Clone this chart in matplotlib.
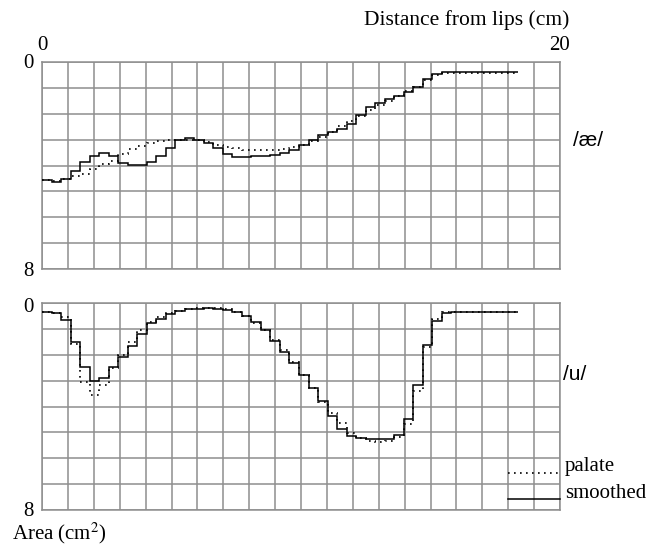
import numpy as np
import matplotlib
matplotlib.use("Agg")
import matplotlib.pyplot as plt

plt.rcParams['font.family'] = ['Liberation Serif', 'DejaVu Serif']
plt.rcParams['mathtext.fontset'] = 'stix'

# Vocal-tract sections (cm each) and cross-sectional areas (cm^2)
section_length = 0.3675
top_palate = [4.56, 4.58, 4.52, 4.42, 4.31, 4.15, 3.95, 3.82, 3.56, 3.37,
              3.24, 3.12, 3.06, 3.02, 3.01, 3.01, 3.03, 3.10, 3.19, 3.27,
              3.34, 3.40, 3.42, 3.42, 3.40, 3.37, 3.30, 3.20, 3.05, 2.88,
              2.70, 2.48, 2.28, 2.08, 1.86, 1.66, 1.49, 1.32, 1.14, 0.95,
              0.70, 0.50, 0.42, 0.41, 0.41, 0.41, 0.41, 0.41, 0.41, 0.41]
top_smoothed = [4.56, 4.62, 4.52, 4.20, 3.85, 3.65, 3.53, 3.63, 3.90, 3.98,
                3.98, 3.87, 3.62, 3.31, 3.01, 2.95, 3.01, 3.14, 3.31, 3.56,
                3.68, 3.66, 3.64, 3.62, 3.58, 3.52, 3.40, 3.20, 3.01, 2.82,
                2.69, 2.60, 2.39, 2.05, 1.75, 1.57, 1.44, 1.31, 1.15, 0.98,
                0.67, 0.46, 0.40, 0.40, 0.40, 0.40, 0.40, 0.40, 0.40, 0.40]
bottom_palate = [0.36, 0.38, 0.55, 1.60, 3.06, 3.55, 3.15, 2.52, 2.00, 1.50,
                 1.04, 0.72, 0.53, 0.40, 0.30, 0.24, 0.21, 0.20, 0.21, 0.25,
                 0.34, 0.50, 0.78, 1.06, 1.43, 1.81, 2.29, 2.78, 3.29, 3.81,
                 4.26, 4.65, 5.03, 5.23, 5.35, 5.38, 5.33, 5.16, 4.67, 3.42,
                 1.69, 0.62, 0.36, 0.36, 0.36, 0.36, 0.36, 0.36, 0.36, 0.36]
bottom_smoothed = [0.36, 0.38, 0.67, 1.49, 2.49, 3.00, 2.88, 2.49, 2.10, 1.67,
                   1.19, 0.77, 0.60, 0.44, 0.31, 0.25, 0.22, 0.21, 0.22, 0.27,
                   0.36, 0.49, 0.72, 1.04, 1.47, 1.88, 2.33, 2.78, 3.27, 3.78,
                   4.36, 4.86, 5.14, 5.22, 5.25, 5.25, 5.25, 5.12, 4.49, 3.16,
                   1.61, 0.68, 0.40, 0.36, 0.36, 0.36, 0.36, 0.36, 0.36, 0.36]
vowels = ['/æ/', '/u/']
x_max, y_max = 20, 8

W, H = 662, 546
fig = plt.figure(figsize=(W / 100, H / 100), dpi=100)

def fx(px):
    return px / W

def fy(py):
    return 1 - py / H

ax1 = fig.add_axes([fx(42), fy(269), fx(518), 207 / H])
ax2 = fig.add_axes([fx(42), fy(510), fx(518), 207 / H])

grid_col = '#8e8e8e'
dot_style = (0, (1, 2.6))
for ax, pal, smo in [(ax1, top_palate, top_smoothed), (ax2, bottom_palate, bottom_smoothed)]:
    edges = np.arange(len(pal) + 1) * section_length
    ax.stairs(pal, edges, baseline=None, color='black', lw=1.2, linestyle=dot_style, zorder=3)
    ax.stairs(smo, edges, baseline=None, color='black', lw=1.1, zorder=4)
    ax.set_xlim(0, x_max)
    ax.set_ylim(y_max, 0)
    ax.set_xticks(np.arange(0, x_max + 1))
    ax.set_yticks(np.arange(0, y_max + 1))
    ax.tick_params(length=0, labelbottom=False, labelleft=False)
    ax.grid(True, color=grid_col, lw=1.1)
    ax.set_axisbelow(True)
    for s in ax.spines.values():
        s.set_color(grid_col)
        s.set_linewidth(1.1)

fs = 15
fig.text(fx(569), fy(20), 'Distance from lips (cm)', ha='right', va='center', fontsize=15.5)
fig.text(fx(42), fy(45), '0', ha='center', va='center', fontsize=fs)
fig.text(fx(560), fy(45), '20', ha='center', va='center', fontsize=fs)
fig.text(fx(28), fy(64), '0', ha='center', va='center', fontsize=fs)
fig.text(fx(28), fy(271), '8', ha='center', va='center', fontsize=fs)
fig.text(fx(28), fy(307), '0', ha='center', va='center', fontsize=fs)
fig.text(fx(28), fy(511), '8', ha='center', va='center', fontsize=fs)
fig.text(fx(12), fy(539), 'Area (cm$^2$)', ha='left', va='baseline', fontsize=fs)

fig.text(fx(573), fy(140), vowels[0], ha='left', va='center', fontsize=15,
         family=['Liberation Sans', 'DejaVu Sans'])
fig.text(fx(563), fy(375), vowels[1], ha='left', va='center', fontsize=15,
         family=['Liberation Sans', 'DejaVu Sans'])

# legend keys
ax2.plot([18, 20], [6.56, 6.56], color='black', lw=1.2, linestyle=dot_style, clip_on=False, zorder=5)
ax2.plot([18, 20], [7.57, 7.57], color='black', lw=1.1, clip_on=False, zorder=5)
fig.text(fx(565), fy(467), 'palate', ha='left', va='center', fontsize=fs)
fig.text(fx(565), fy(493), 'smoothed', ha='left', va='center', fontsize=fs)

fig.savefig('out.png', dpi=100)
